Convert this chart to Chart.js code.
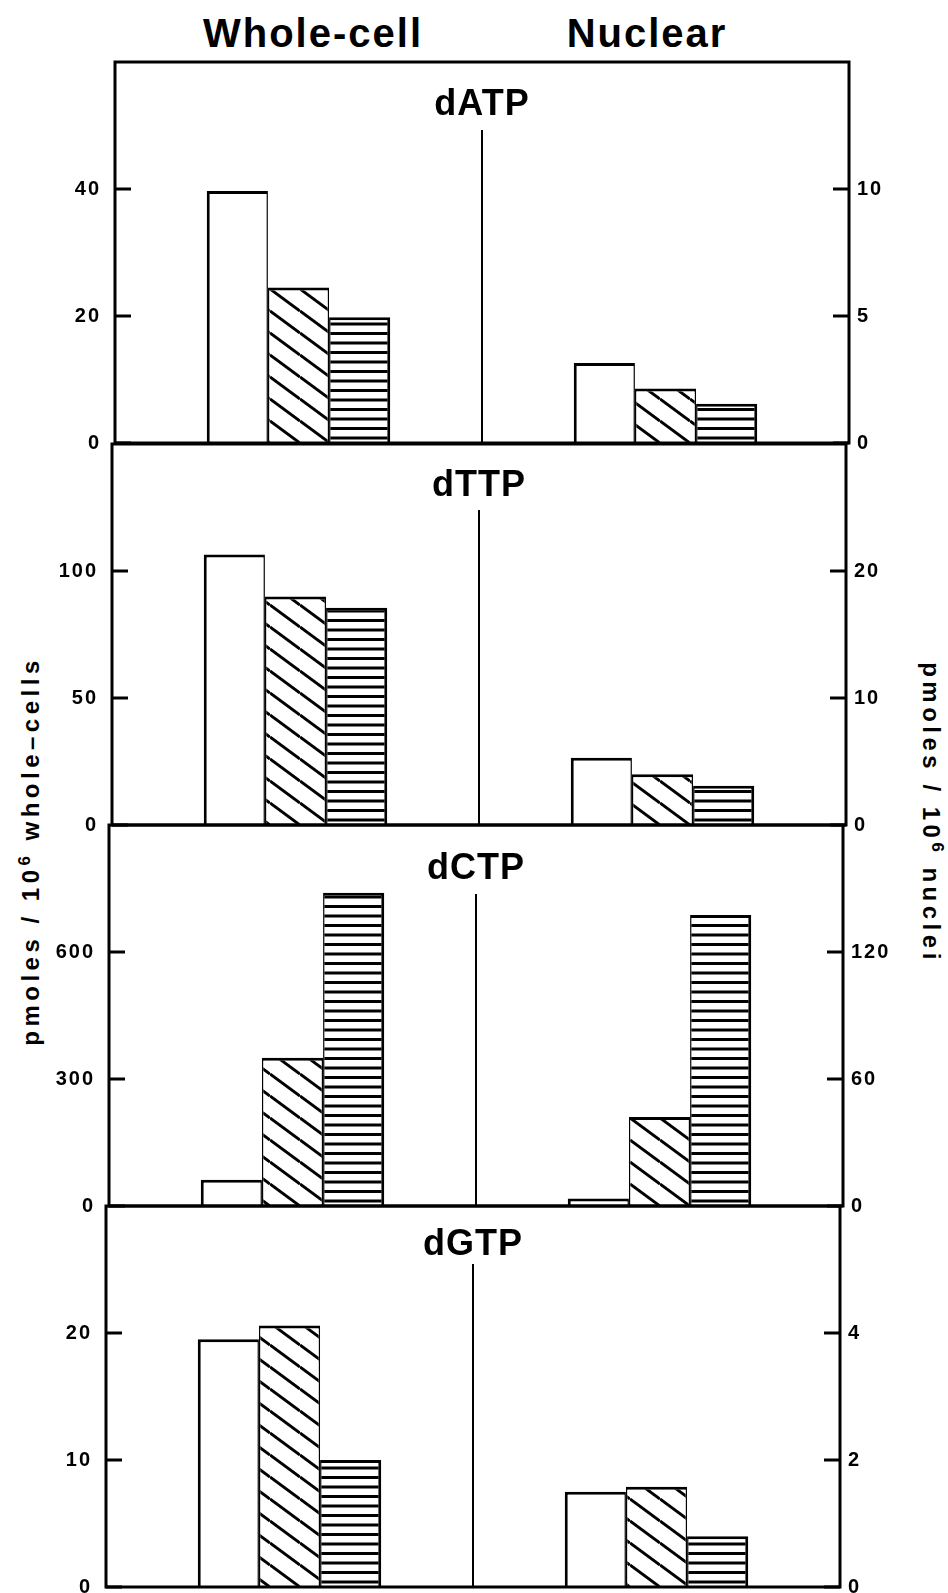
<!DOCTYPE html>
<html>
<head>
<meta charset="utf-8">
<script src="https://cdn.jsdelivr.net/npm/chart.js@4.4.1/dist/chart.umd.min.js"></script>
<style>
  html, body { margin: 0; background: #fff; }
  #page { position: relative; width: 948px; height: 1593px; overflow: hidden;
          font-family: 'Liberation Sans', Arial, sans-serif; font-weight: bold; color: #000; }
  #page canvas { position: absolute; left: 0; }
  .head { position: absolute; top: 13px; font-size: 40px; line-height: 1; letter-spacing: 2px;
          transform: translateX(-50%); white-space: nowrap; }
  .ytitle { position: absolute; font-size: 24px; line-height: 1; letter-spacing: 4.5px; white-space: nowrap; }
  .ytitle sup { font-size: 70%; }
</style>
</head>
<body>
<div id="page">
  <div class="head" id="headWhole" style="left:313px"></div>
  <div class="head" id="headNuc" style="left:647px"></div>
  <div class="ytitle" style="left:30px;top:851px;transform:translate(-50%,-50%) rotate(-90deg)">pmoles / 10<sup>6</sup> whole&#8211;cells</div>
  <div class="ytitle" style="left:932px;top:813px;transform:translate(-50%,-50%) rotate(90deg)">pmoles / 10<sup>6</sup> nuclei</div>
</div>
<script>
const categories = ['Whole-cell', 'Nuclear'];
const nucleotides = ['dATP', 'dTTP', 'dCTP', 'dGTP'];

// pmoles / 10^6 whole-cells (left axis), one value per nucleotide
const wholeOpen = [39.7, 106.5, 62, 19.5];
const wholeDiag = [24.5, 90, 350, 20.6];
const wholeHoriz = [19.8, 85.5, 740, 10.0];

// pmoles / 10^6 nuclei (right axis)
const nucOpen = [3.15, 5.3, 3.5, 1.5];
const nucDiag = [2.15, 4.0, 42, 1.58];
const nucHoriz = [1.55, 3.1, 137.5, 0.8];

// axis ranges per panel
const wholeMax = [60, 150, 900, 30];
const wholeStep = [20, 50, 300, 10];
const nucMax = [15, 30, 180, 6];
const nucStep = [5, 10, 60, 2];

document.getElementById('headWhole').textContent = categories[0];
document.getElementById('headNuc').textContent = categories[1];

// layout of the four stacked panels (the scan is slightly skewed)
const panelTop = [62, 444, 825, 1206];
const panelH = 381;
const plotLeft = [115, 112, 109, 106];
const plotW = 734;
const titleDrop = [43, 42, 44, 39];
const dividerDrop = [68, 66, 69, 58];
const pad = 15;
const FONT = '"Liberation Sans", Arial, sans-serif';

function makeDiag() {
    const c = document.createElement('canvas');
    c.width = 30; c.height = 22;
    const g = c.getContext('2d');
    g.fillStyle = '#fff';
    g.fillRect(0, 0, 30, 22);
    g.strokeStyle = '#000';
    g.lineWidth = 3;
    for (const dy of [-22, 0, 22]) {
        g.beginPath();
        g.moveTo(0, dy);
        g.lineTo(30, dy + 22);
        g.stroke();
    }
    return g.createPattern(c, 'repeat');
}

function makeHoriz() {
    const c = document.createElement('canvas');
    c.width = 4; c.height = 19;
    const g = c.getContext('2d');
    g.fillStyle = '#fff';
    g.fillRect(0, 0, 4, 19);
    g.fillStyle = '#000';
    g.fillRect(0, 0, 4, 3);
    g.fillRect(0, 9.5, 4, 3);
    return g.createPattern(c, 'repeat');
}

const diagFill = makeDiag();
const horizFill = makeHoriz();

// box, inward tick marks, middle divider and nucleotide name
const panelDecor = {
    id: 'panelDecor',
    beforeDraw(chart) {
        chart.ctx.letterSpacing = '2px';
    },
    afterDraw(chart, args, opts) {
        const { ctx, chartArea: a, scales } = chart;
        ctx.save();
        ctx.letterSpacing = '0px';
        ctx.strokeStyle = '#000';
        ctx.lineWidth = 3;
        ctx.strokeRect(a.left, a.top, a.right - a.left, a.bottom - a.top);

        ctx.beginPath();
        scales.y.ticks.forEach(t => {
            const py = scales.y.getPixelForValue(t.value);
            ctx.moveTo(a.left, py);
            ctx.lineTo(a.left + 16, py);
        });
        scales.y1.ticks.forEach(t => {
            const py = scales.y1.getPixelForValue(t.value);
            ctx.moveTo(a.right, py);
            ctx.lineTo(a.right - 16, py);
        });
        ctx.stroke();

        const mid = (scales.x.getPixelForTick(0) + scales.x.getPixelForTick(1)) / 2;
        ctx.lineWidth = 2;
        ctx.beginPath();
        ctx.moveTo(mid, a.top + opts.divider);
        ctx.lineTo(mid, a.bottom);
        ctx.stroke();

        ctx.fillStyle = '#000';
        ctx.font = 'bold 36px ' + FONT;
        ctx.letterSpacing = '1px';
        ctx.textAlign = 'center';
        ctx.textBaseline = 'middle';
        ctx.fillText(opts.title, mid, a.top + opts.drop);
        ctx.restore();
    }
};

function barSet(label, data, axis, fill, border) {
    return {
        label: label,
        data: data,
        yAxisID: axis,
        backgroundColor: fill,
        borderColor: '#000',
        borderWidth: border,
        borderSkipped: false,
        skipNull: true
    };
}

const firstEdge = { top: 3, left: 3, right: 1.5, bottom: 0 };
const midEdge = { top: 3, left: 1.5, right: 1.5, bottom: 0 };
const lastEdge = { top: 3, left: 1.5, right: 3, bottom: 0 };

const page = document.getElementById('page');

nucleotides.forEach((name, i) => {
    const canvas = document.createElement('canvas');
    canvas.width = 948;
    canvas.height = panelH + 2 * pad;
    canvas.style.top = (panelTop[i] - pad) + 'px';
    page.appendChild(canvas);

    const leftW = plotLeft[i];
    const rightW = 948 - plotLeft[i] - plotW;
    const tickFont = { family: FONT, size: 20, weight: 'bold' };

    // fixed axis widths, and no extra room for the half-height of edge labels
    const fixWidth = w => s => {
        s.width = w;
        s.paddingTop = 0;
        s.paddingBottom = 0;
    };

    new Chart(canvas.getContext('2d'), {
        type: 'bar',
        data: {
            labels: categories,
            datasets: [
                barSet('open', [wholeOpen[i], null], 'y', '#fff', firstEdge),
                barSet('diagonal', [wholeDiag[i], null], 'y', diagFill, midEdge),
                barSet('horizontal', [wholeHoriz[i], null], 'y', horizFill, lastEdge),
                barSet('open', [null, nucOpen[i]], 'y1', '#fff', firstEdge),
                barSet('diagonal', [null, nucDiag[i]], 'y1', diagFill, midEdge),
                barSet('horizontal', [null, nucHoriz[i]], 'y1', horizFill, lastEdge)
            ]
        },
        options: {
            responsive: false,
            animation: false,
            events: [],
            categoryPercentage: 0.5,
            barPercentage: 1.0,
            layout: { padding: { top: pad, bottom: pad, left: 0, right: 0 }, autoPadding: false },
            plugins: {
                legend: { display: false },
                tooltip: { enabled: false },
                panelDecor: { title: name, drop: titleDrop[i], divider: dividerDrop[i] }
            },
            scales: {
                x: {
                    type: 'category',
                    display: false,
                    stacked: false,
                    offset: true
                },
                y: {
                    type: 'linear',
                    position: 'left',
                    min: 0,
                    max: wholeMax[i],
                    stacked: false,
                    afterBuildTicks: s => { s.ticks = s.ticks.filter(t => t.value < s.max); },
                    afterFit: fixWidth(leftW),
                    ticks: { stepSize: wholeStep[i], padding: 14, color: '#000', font: tickFont },
                    grid: { display: false, drawTicks: false },
                    border: { display: false }
                },
                y1: {
                    type: 'linear',
                    position: 'right',
                    min: 0,
                    max: nucMax[i],
                    stacked: false,
                    afterBuildTicks: s => { s.ticks = s.ticks.filter(t => t.value < s.max); },
                    afterFit: fixWidth(rightW),
                    ticks: { stepSize: nucStep[i], padding: 8, color: '#000', font: tickFont },
                    grid: { display: false, drawTicks: false },
                    border: { display: false }
                }
            }
        },
        plugins: [panelDecor]
    });
});
</script>
</body>
</html>
